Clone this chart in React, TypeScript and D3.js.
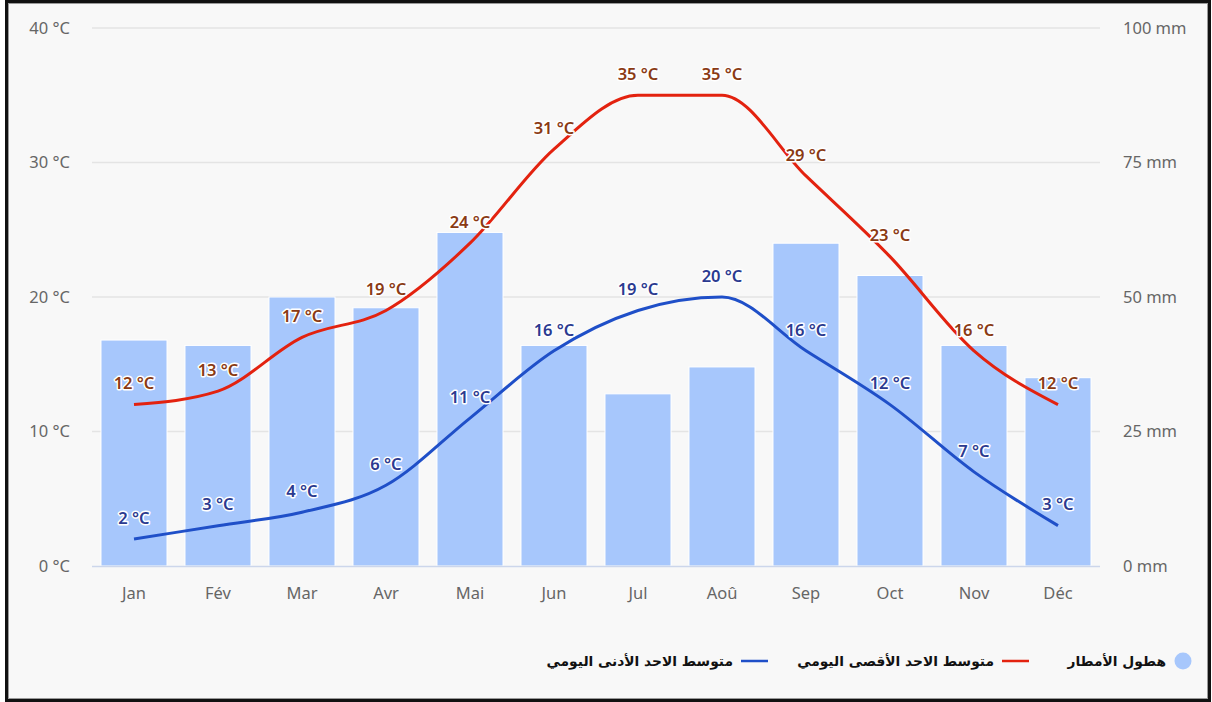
import React from 'react';
import * as d3 from 'd3';

const months = ['Jan', 'Fév', 'Mar', 'Avr', 'Mai', 'Jun', 'Jul', 'Aoû', 'Sep', 'Oct', 'Nov', 'Déc'];
const precipitation = [42, 41, 50, 48, 62, 41, 32, 37, 60, 54, 41, 35];
const maxTemp = [12, 13, 17, 19, 24, 31, 35, 35, 29, 23, 16, 12];
const minTemp = [2, 3, 4, 6, 11, 16, 19, 20, 16, 12, 7, 3];
const tempTicks = [0, 10, 20, 30, 40];
const rainTicks = [0, 25, 50, 75, 100];
const legendLabels = ['هطول الأمطار', 'متوسط الاحد الأقصى اليومي', 'متوسط الاحد الأدنى اليومي'];

const W = 1212;
const H = 702;
const plot = { left: 92, right: 1100, top: 28, bottom: 566 };
const font = '"Noto Sans", "Open Sans", sans-serif';

const App = () => {
  const x = d3.scaleBand<string>().domain(months).range([plot.left, plot.right]).paddingInner(0.214).paddingOuter(0.107);
  const xc = (m: string) => (x(m) as number) + x.bandwidth() / 2;
  const yT = d3.scaleLinear().domain([0, 40]).range([plot.bottom, plot.top]);
  const yR = d3.scaleLinear().domain([0, 100]).range([plot.bottom, plot.top]);

  const line = d3.line<number>()
    .x((_, i) => xc(months[i]))
    .y(d => yT(d))
    .curve(d3.curveMonotoneX);

  const labels = (vals: number[], color: string) =>
    vals.map((v, i) => (
      <text key={i} x={xc(months[i])} y={yT(v) - 21} dy="0.35em" textAnchor="middle"
        fill={color} stroke="#fff" strokeWidth={3} strokeLinejoin="round"
        style={{ paintOrder: 'stroke' }} fontSize={16.5} fontWeight={600} fontFamily={font}>
        {v} °C
      </text>
    ));

  return (
    <svg width={W} height={H} style={{ position: 'absolute', left: 0, top: 0 }}>
      <rect x={0} y={0} width={W} height={H} fill="#fff" />
      <rect x={6.5} y={1.5} width={1203} height={699} fill="#f8f8f8" stroke="#111" strokeWidth={3} />
      <rect x={8.5} y={3.5} width={1199} height={695} fill="none" stroke="#9a9a9a" strokeWidth={1} />

      {/* grid */}
      {tempTicks.filter(t => t > 0).map(t => (
        <line key={t} x1={plot.left} x2={plot.right} y1={yT(t)} y2={yT(t)} stroke="#e4e4e4" strokeWidth={1.5} />
      ))}

      {/* rainfall bars */}
      {precipitation.map((v, i) => (
        <rect key={i} x={x(months[i])} y={yR(v)} width={x.bandwidth()} height={plot.bottom - yR(v)}
          fill="#a7c7fc" stroke="#fff" strokeWidth={1} />
      ))}

      <line x1={plot.left} x2={plot.right} y1={plot.bottom + 0.5} y2={plot.bottom + 0.5} stroke="#ccd6eb" strokeWidth={1.5} />

      {/* left axis */}
      {tempTicks.map(t => (
        <text key={t} x={70} y={yT(t)} dy="0.35em" textAnchor="end" fill="#666" fontSize={16.5} fontFamily={font}>
          {t} °C
        </text>
      ))}
      {/* right axis */}
      {rainTicks.map(t => (
        <text key={t} x={1123} y={yR(t)} dy="0.35em" textAnchor="start" fill="#666" fontSize={16.5} fontFamily={font}>
          {t} mm
        </text>
      ))}
      {/* months */}
      {months.map(m => (
        <text key={m} x={xc(m)} y={593} dy="0.35em" textAnchor="middle" fill="#666" fontSize={16.5} fontFamily={font}>
          {m}
        </text>
      ))}

      {/* temperature lines */}
      <path d={line(maxTemp) as string} fill="none" stroke="#e3220f" strokeWidth={3} />
      <path d={line(minTemp) as string} fill="none" stroke="#1f4fc8" strokeWidth={3} />
      {labels(maxTemp, '#8a3a14')}
      {labels(minTemp, '#2b3a90')}

      {/* legend */}
      <g fontFamily='"DejaVu Sans", sans-serif' fontWeight="bold" fontSize={13.8} fill="#111">
        <circle cx={1183} cy={661} r={8.5} fill="#a7c7fc" />
        <text x={1166} y={661} dy="0.35em" textAnchor="end">{legendLabels[0]}</text>
        <line x1={1002} x2={1029} y1={661} y2={661} stroke="#e3220f" strokeWidth={2.5} />
        <text x={994} y={661} dy="0.35em" textAnchor="end">{legendLabels[1]}</text>
        <line x1={741} x2={768} y1={661} y2={661} stroke="#1f4fc8" strokeWidth={2.5} />
        <text x={733} y={661} dy="0.35em" textAnchor="end">{legendLabels[2]}</text>
      </g>
    </svg>
  );
};

export default App;
